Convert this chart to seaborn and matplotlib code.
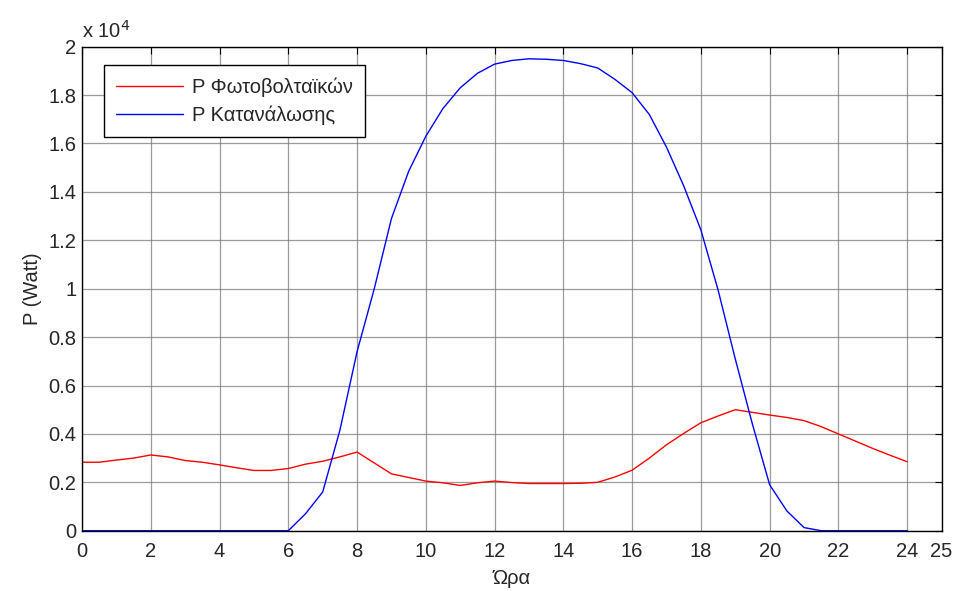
import numpy as np
import pandas as pd
import matplotlib
matplotlib.use("Agg")
import matplotlib.pyplot as plt
import seaborn as sns
from matplotlib.ticker import FuncFormatter

# Hours (half-hour samples)
hours = [0, 0.5, 1, 1.5, 2, 2.5, 3, 3.5, 4, 4.5, 5, 5.5, 6, 6.5, 7, 7.5, 8, 8.5,
         9, 9.5, 10, 10.5, 11, 11.5, 12, 12.5, 13, 13.5, 14, 14.5, 15, 15.5, 16,
         16.5, 17, 17.5, 18, 18.5, 19, 19.5, 20, 20.5, 21, 21.5, 22, 22.5, 23,
         23.5, 24]

# Red series (Watt)
p_pv = [2830, 2830, 2920, 3000, 3130, 3050, 2900, 2830, 2720, 2600, 2490, 2490,
        2570, 2750, 2870, 3050, 3250, 2800, 2350, 2200, 2050, 1980, 1870, 1980,
        2050, 1990, 1950, 1950, 1950, 1960, 2000, 2220, 2500, 3000, 3550, 4020,
        4460, 4740, 5000, 4890, 4780, 4680, 4550, 4300, 4000, 3700, 3400, 3120,
        2850]

# Blue series (Watt)
p_load = [0, 0, 0, 0, 0, 0, 0, 0, 0, 0, 0, 0, 0, 700, 1600, 4150, 7400, 10000,
          12900, 14850, 16300, 17450, 18300, 18900, 19280, 19430, 19500, 19480,
          19430, 19300, 19120, 18650, 18100, 17200, 15850, 14250, 12430, 9950,
          7100, 4400, 1900, 820, 130, 0, 0, 0, 0, 0, 0]

labels = ["P Φωτοβολταϊκών", "P Κατανάλωσης"]
x_ticks = [0, 2, 4, 6, 8, 10, 12, 14, 16, 18, 20, 22, 24, 25]
y_ticks = [0, 2000, 4000, 6000, 8000, 10000, 12000, 14000, 16000, 18000, 20000]

df = pd.DataFrame({"hour": hours, "pv": p_pv, "load": p_load})

sns.set_style("white")
plt.rcParams["font.family"] = ["Liberation Sans", "DejaVu Sans"]

FS = 14.5

fig = plt.figure(figsize=(9.55, 5.91), dpi=100)
ax = fig.add_axes([0.0859, 0.102, 0.9, 0.819])

sns.lineplot(data=df, x="hour", y="pv", ax=ax, color="#ff0000", lw=1.0,
             label=labels[0])
sns.lineplot(data=df, x="hour", y="load", ax=ax, color="#0000ff", lw=1.0,
             label=labels[1])

ax.set_xlim(0, 25)
ax.set_ylim(0, 20000)
ax.set_xticks(x_ticks)
ax.set_yticks(y_ticks)
ax.yaxis.set_major_formatter(FuncFormatter(lambda v, p: f"{v/1e4:g}"))
ax.tick_params(axis="both", which="both", direction="in", length=5, width=0.8,
               top=True, right=True, labelsize=FS, color="black")
ax.tick_params(axis="x", pad=8)
ax.tick_params(axis="y", pad=4)
ax.grid(True, color="#7a7a7a", lw=0.9, alpha=0.75)
for s in ax.spines.values():
    s.set_color("black")
    s.set_linewidth(1.0)

ax.set_xlabel("Ώρα", fontsize=FS, labelpad=6)
ax.set_ylabel("P (Watt)", fontsize=FS, labelpad=5)
ax.text(0.0, 1.01, r"x 10$^{4}$", transform=ax.transAxes, fontsize=FS,
        ha="left", va="bottom")

leg = ax.legend(loc="upper left", bbox_to_anchor=(0.0256, 0.962),
                fontsize=FS, frameon=True, fancybox=False, framealpha=1,
                edgecolor="black", borderaxespad=0, handlelength=3.3,
                handletextpad=0.45, borderpad=0.6, labelspacing=0.45)
leg.get_frame().set_linewidth(1.0)

fig.savefig("out.png", dpi=100)
